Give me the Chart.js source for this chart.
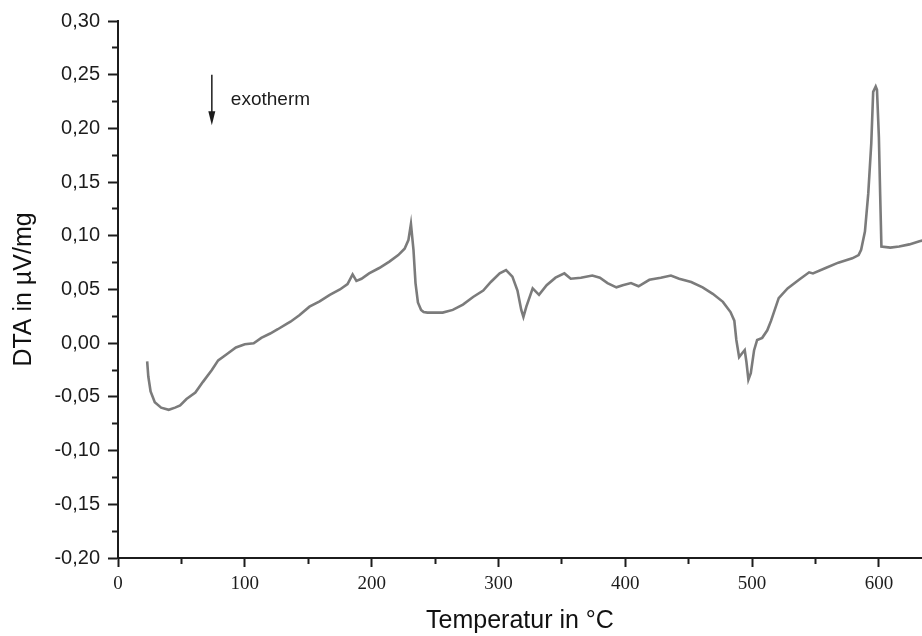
<!DOCTYPE html>
<html>
<head>
<meta charset="utf-8">
<title>DTA</title>
<script src="https://cdn.jsdelivr.net/npm/chart.js@4.4.1/dist/chart.umd.min.js"></script>
<style>
  html, body { margin: 0; padding: 0; background: #fff; overflow: hidden; }
  #wrap { width: 922px; height: 636px; position: relative; }
</style>
</head>
<body>
<div id="wrap"><canvas id="dtaChart"></canvas></div>
<script>
// temperature in °C
var temperature = [
  23, 23.9, 25.7, 29, 34, 40, 45, 49, 54, 61, 67, 74, 79, 86, 93, 100, 107, 113, 120, 126,
  133, 136, 143, 151, 159, 167, 175, 181, 185, 188, 192, 198, 206, 214, 221, 226, 229, 231, 233, 234.6,
  236.5, 239, 241, 244, 256, 264, 272, 280, 288, 294, 301, 306, 311, 315, 318, 319.7, 322, 327, 332, 338,
  345, 352, 357, 365, 374, 380, 386, 393, 398, 404.5, 410.5, 419, 428, 436, 442.5, 452, 461, 469, 477, 483,
  486, 487.6, 489.8, 492, 494.2, 495.5, 497.1, 499, 501.6, 504, 508, 512, 515, 521, 528, 537, 545, 548, 558, 568,
  579, 584, 586, 589, 591.6, 594, 595.5, 597.5, 598.5, 600, 601, 602, 609, 616, 624, 632, 636
];

// DTA signal in µV/mg
var dta = [
  -0.017, -0.031, -0.045, -0.055, -0.060, -0.062, -0.060, -0.058, -0.052, -0.046, -0.036, -0.025, -0.016, -0.010, -0.004, -0.001, 0.000, 0.005, 0.009, 0.013,
  0.018, 0.020, 0.026, 0.034, 0.039, 0.045, 0.050, 0.055, 0.064, 0.058, 0.060, 0.065, 0.070, 0.076, 0.082, 0.088, 0.096, 0.111, 0.087, 0.056,
  0.038, 0.031, 0.029, 0.0285, 0.0285, 0.031, 0.036, 0.043, 0.049, 0.057, 0.065, 0.068, 0.062, 0.049, 0.031, 0.0245, 0.034, 0.051, 0.045, 0.054,
  0.061, 0.065, 0.060, 0.061, 0.063, 0.061, 0.056, 0.052, 0.054, 0.056, 0.053, 0.059, 0.061, 0.063, 0.060, 0.057, 0.052, 0.046, 0.0385, 0.029,
  0.021, 0.003, -0.013, -0.0096, -0.0065, -0.017, -0.034, -0.028, -0.0065, 0.003, 0.005, 0.012, 0.021, 0.042, 0.051, 0.059, 0.066, 0.065, 0.070, 0.075,
  0.079, 0.082, 0.087, 0.104, 0.139, 0.186, 0.234, 0.239, 0.236, 0.192, 0.139, 0.090, 0.089, 0.090, 0.092, 0.095, 0.096
];

// axis ranges and tick steps
var xRange = [0, 634];
var yRange = [-0.20, 0.30];
var xMajorStep = 100, xMinorStep = 50;
var yMajorStep = 0.05, yMinorStep = 0.025;

// annotation text
var annotationText = "exotherm";

var points = temperature.map(function (t, i) {
  return { x: t, y: dta[i] };
});

var axisColor = "#1c1c1c";

// draws the "exotherm" arrow and label
var exothermPlugin = {
  id: "exotherm",
  afterDraw: function (chart) {
    var ctx = chart.ctx;
    var xs = chart.scales.x, ys = chart.scales.y;
    var ax = xs.getPixelForValue(74);
    var yTop = ys.getPixelForValue(0.25);
    var yTip = ys.getPixelForValue(0.203);
    ctx.save();
    ctx.strokeStyle = axisColor;
    ctx.fillStyle = axisColor;
    ctx.lineWidth = 1.5;
    ctx.beginPath();
    ctx.moveTo(ax, yTop);
    ctx.lineTo(ax, yTip - 10);
    ctx.stroke();
    ctx.beginPath();
    ctx.moveTo(ax - 3.5, yTip - 14);
    ctx.lineTo(ax + 3.5, yTip - 14);
    ctx.lineTo(ax, yTip);
    ctx.closePath();
    ctx.fill();
    ctx.font = "19px 'Liberation Sans', Arial, sans-serif";
    ctx.textBaseline = "alphabetic";
    ctx.textAlign = "left";
    ctx.fillText(annotationText, xs.getPixelForValue(89), ys.getPixelForValue(0.2216));
    ctx.restore();
  }
};

var ctx = document.getElementById("dtaChart").getContext("2d");

var dtaChart = new Chart(ctx, {
  type: "line",
  data: {
    datasets: [{
      label: "DTA",
      data: points,
      borderColor: "#7b7b7b",
      borderWidth: 2.6,
      pointRadius: 0,
      tension: 0,
      fill: false
    }]
  },
  options: {
    responsive: true,
    maintainAspectRatio: false,
    animation: false,
    layout: { padding: { top: 21, right: 0, bottom: 0, left: 0 } },
    plugins: {
      legend: { display: false },
      tooltip: { enabled: false }
    },
    scales: {
      x: {
        type: "linear",
        min: xRange[0],
        max: xRange[1],
        border: { display: true, color: axisColor, width: 2 },
        grid: {
          drawOnChartArea: false,
          tickLength: 9,
          tickWidth: 2,
          tickColor: axisColor,
          // short ticks for the minor steps
          tickBorderDash: function (c) {
            if (c.tick && Math.round(c.tick.value) % xMajorStep !== 0) return [5, 100];
            return [];
          }
        },
        ticks: {
          stepSize: xMinorStep,
          autoSkip: false,
          includeBounds: false,
          maxRotation: 0,
          padding: 6,
          color: "#1c1c1c",
          font: { family: "'Liberation Serif', 'Times New Roman', serif", size: 19 },
          callback: function (v) {
            return Math.round(v) % xMajorStep === 0 ? String(Math.round(v)) : "";
          }
        },
        title: {
          display: true,
          text: "Temperatur in °C",
          color: "#111",
          font: { family: "'Liberation Sans', Arial, sans-serif", size: 25 },
          padding: { top: 0, bottom: 0 }
        },
        afterFit: function (scale) { scale.height = 78; }
      },
      y: {
        type: "linear",
        min: yRange[0],
        max: yRange[1],
        border: { display: true, color: axisColor, width: 2 },
        grid: {
          drawOnChartArea: false,
          tickLength: 10,
          tickWidth: 2,
          tickColor: axisColor,
          tickBorderDash: function (c) {
            if (c.tick && Math.round(c.tick.value * 1000) % Math.round(yMajorStep * 1000) !== 0) return [0, 4, 5, 100];
            return [];
          }
        },
        ticks: {
          stepSize: yMinorStep,
          autoSkip: false,
          padding: 8,
          color: "#1c1c1c",
          font: { family: "'Liberation Sans', Arial, sans-serif", size: 20 },
          callback: function (v) {
            var m = Math.round(v * 1000);
            if (m % Math.round(yMajorStep * 1000) !== 0) return "";
            return (m / 1000).toFixed(2).replace(".", ",");
          }
        },
        title: {
          display: true,
          text: "DTA in µV/mg",
          color: "#111",
          font: { family: "'Liberation Sans', Arial, sans-serif", size: 25 },
          padding: { top: 9, bottom: 0 }
        },
        afterFit: function (scale) { scale.width = 118; }
      }
    }
  },
  plugins: [exothermPlugin]
});
</script>
</body>
</html>
